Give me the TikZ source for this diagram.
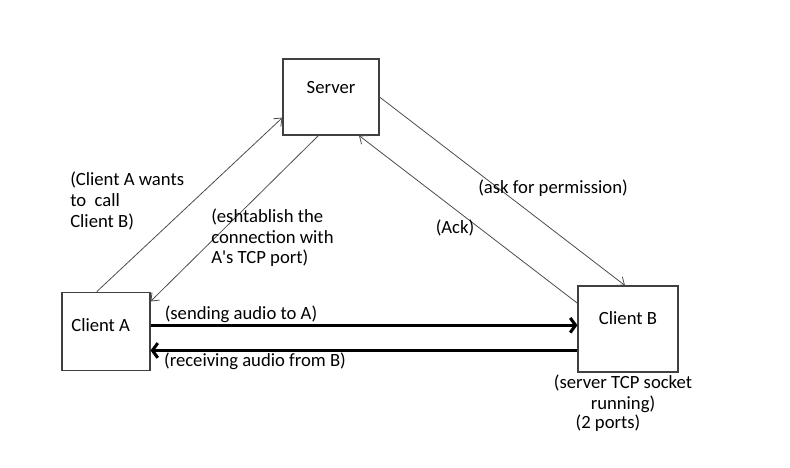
\documentclass[tikz,border=0pt]{standalone}
\usepackage{fontspec}
\setmainfont{Carlito}
\usetikzlibrary{arrows.meta}

\tikzset{
  box/.style={draw=black!75,line width=0.8pt,inner sep=0pt},
  msg/.style={draw=black!70,line width=0.6pt,-{Straight Barb[length=5pt,width=8pt]}},
  audio/.style={draw=black,line width=2.3pt,-{Straight Barb[length=4pt,width=11pt]}},
  txt/.style={font=\fontsize{14}{15.4}\selectfont,inner sep=0pt,align=left}
}

\begin{document}
\begin{tikzpicture}[x=0.75pt,y=-0.75pt]
                    \useasboundingbox (0,0) rectangle (790,468);
                    % boxes
                    \node[box,minimum width=72pt,minimum height=57pt,label={[txt,yshift=7pt]center:Server}] (server) at (331,97) {};
                    \node[box,minimum width=66pt,minimum height=59pt,label={[txt,xshift=-4pt,yshift=5pt]center:Client A}] (clienta) at (106,331.5) {};
                    \node[box,minimum width=75pt,minimum height=64.5pt,label={[txt,yshift=8pt]center:Client B}] (clientb) at (628,329) {};

                    % messages through the server
                    \draw[msg] (clienta.103) -- (server.203);
                    \draw[msg] (server.252) -- (clienta.34);
                    \draw[msg] (server.east) -- (clientb.94);
                    \draw[msg] (clientb.153) -- (server.306);

                    % audio
                    \draw[audio] (clienta.8) -- (clienta.8 -| clientb.west);
                    \draw[audio] (clientb.203) -- (clientb.203 -| clienta.east);

                    % labels
                    \node[txt,anchor=west] (want) at (70,201) {(Client A wants\\to\ \ call\\Client B)};
                    \node[txt,anchor=west] (estab) at (211,238) {(eshtablish the\\connection with\\A\textquotesingle s TCP port)};
                    \node[txt] (ask) at (553,188) {(ask for permission)};
                    \node[txt] (ack) at (455,228) {(Ack)};
                    \node[txt] (send) at (241,314) {(sending audio to A)};
                    \node[txt] (recv) at (255,361) {(receiving audio from B)};
                    \node[txt,align=center] (sock) at (623,394) {(server TCP socket\\running)};
                    \node[txt] (ports) at (608,423) {(2 ports)};
                \end{tikzpicture}
\end{document}
